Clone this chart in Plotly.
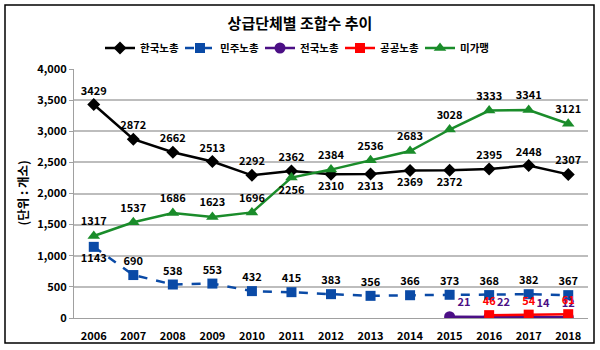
import plotly.graph_objects as go

years = ["2006", "2007", "2008", "2009", "2010", "2011", "2012",
         "2013", "2014", "2015", "2016", "2017", "2018"]
hankuk = [3429, 2872, 2662, 2513, 2292, 2362, 2310, 2313, 2369, 2372, 2395, 2448, 2307]
minju = [1143, 690, 538, 553, 432, 415, 383, 356, 366, 373, 368, 382, 367]
jeonguk_years = ["2015", "2016", "2017", "2018"]
jeonguk = [21, 22, 14, 12]
gonggong_years = ["2016", "2017", "2018"]
gonggong = [46, 54, 61]
migamaeng = [1317, 1537, 1686, 1623, 1696, 2256, 2384, 2536, 2683, 3028, 3333, 3341, 3121]
y_ticks = [0, 500, 1000, 1500, 2000, 2500, 3000, 3500, 4000]

FONT = "Noto Sans CJK KR"
BLACK = "#000000"
BLUE = "#0A4AA6"
PURPLE = "#4B0F85"
RED = "#FF0000"
GREEN = "#1A8C2A"

def lbl(vals):
    return ["<b>%d</b>" % v for v in vals]

fig = go.Figure()

fig.add_trace(go.Scatter(
    x=years, y=hankuk, name="한국노총", mode="lines+markers+text",
    line=dict(color=BLACK, width=2.5),
    marker=dict(symbol="diamond", size=10, color=BLACK),
    text=lbl(hankuk),
    textposition=["top center"] * 6 + ["bottom center"] * 4 + ["top center"] * 3,
    textfont=dict(size=11, color=BLACK, family=FONT),
))
fig.add_trace(go.Scatter(
    x=years, y=minju, name="민주노총", mode="lines+markers+text",
    line=dict(color=BLUE, width=2.5, dash="dash"),
    marker=dict(symbol="square", size=10, color=BLUE),
    text=lbl(minju),
    textposition=["bottom center"] + ["top center"] * 12,
    textfont=dict(size=11, color=BLACK, family=FONT),
))
fig.add_trace(go.Scatter(
    x=jeonguk_years, y=jeonguk, name="전국노총", mode="lines+markers+text",
    line=dict(color=PURPLE, width=2.5),
    marker=dict(symbol="circle", size=11, color=PURPLE),
    text=lbl(jeonguk),
    textposition=["top right", "top right", "top right", "top center"],
    textfont=dict(size=11, color=PURPLE, family=FONT),
))
fig.add_trace(go.Scatter(
    x=gonggong_years, y=gonggong, name="공공노총", mode="lines+markers+text",
    line=dict(color=RED, width=2.5),
    marker=dict(symbol="square", size=10, color=RED),
    text=lbl(gonggong),
    textposition="top center",
    textfont=dict(size=11, color=RED, family=FONT),
))
fig.add_trace(go.Scatter(
    x=years, y=migamaeng, name="미가맹", mode="lines+markers+text",
    line=dict(color=GREEN, width=2.5),
    marker=dict(symbol="triangle-up", size=11, color=GREEN),
    text=lbl(migamaeng),
    textposition=["top center"] * 5 + ["bottom center"] + ["top center"] * 7,
    textfont=dict(size=11, color=BLACK, family=FONT),
))

fig.update_layout(
    width=600, height=350,
    margin=dict(l=74, r=12, t=69, b=32, autoexpand=False),
    paper_bgcolor="white", plot_bgcolor="white",
    font=dict(family=FONT, size=11, color=BLACK),
    title=dict(text="<b>상급단체별 조합수 추이</b>", x=0.5, xanchor="center",
               y=1 - 24 / 350, yanchor="middle",
               font=dict(size=15, family=FONT, color=BLACK)),
    legend=dict(orientation="h", xref="container", x=0.5, xanchor="center",
                yref="container", y=1 - 48 / 350, yanchor="middle",
                font=dict(size=10.5, family=FONT, color=BLACK, weight="bold"),
                itemwidth=30, entrywidth=35, tracegroupgap=0,
                bgcolor="rgba(0,0,0,0)"),
    showlegend=True,
    xaxis=dict(type="category", categoryorder="array", categoryarray=years,
               range=[-0.5, 12.5], showgrid=False, showline=True,
               linecolor="#A0A0A0", linewidth=1, ticks="outside", ticklen=8,
               tickcolor="rgba(0,0,0,0)",
               tickfont=dict(size=11, family=FONT, color=BLACK, weight="bold")),
    yaxis=dict(range=[0, 4000], tickvals=y_ticks, tickformat=",",
               showgrid=True, gridcolor="#BDBDBD", gridwidth=1.5,
               showline=True, linecolor="#A0A0A0", linewidth=1,
               ticks="outside", ticklen=4, tickcolor="#A0A0A0",
               zeroline=False,
               tickfont=dict(size=11, family=FONT, color=BLACK, weight="bold")),
    annotations=[dict(text="<b>(단위 : 개소)</b>", xref="paper", yref="paper",
                      x=(22 - 74) / 514, y=0.5, textangle=-90, showarrow=False,
                      xanchor="center", yanchor="middle",
                      font=dict(size=12.5, family=FONT, color=BLACK))],
    shapes=[dict(type="rect", xref="paper", yref="paper",
                 x0=(5 - 74) / 514, x1=(594 - 74) / 514,
                 y0=(318 - 343) / 249, y1=(318 - 5) / 249,
                 line=dict(color=BLACK, width=1.5), fillcolor="rgba(0,0,0,0)",
                 layer="below")],
)

fig.write_html("out.html")
